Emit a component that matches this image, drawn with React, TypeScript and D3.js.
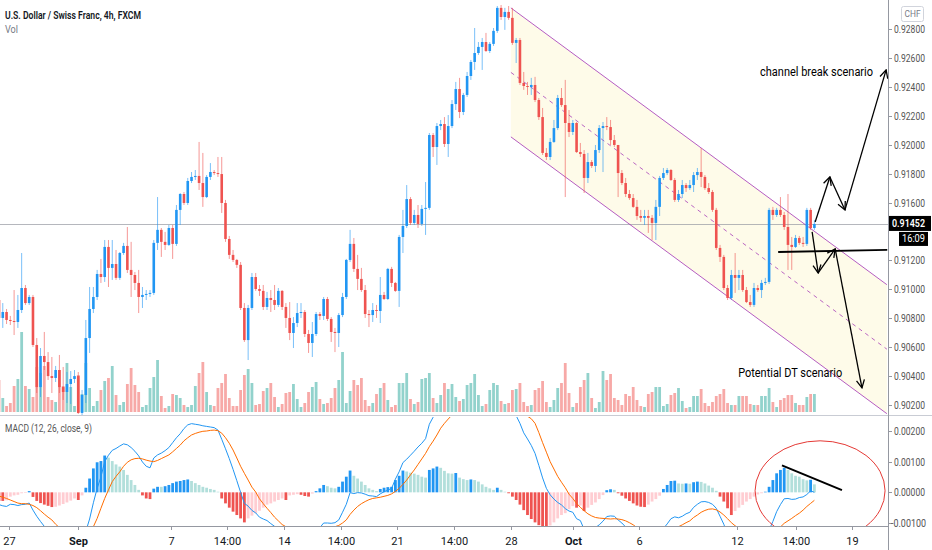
import * as d3 from "d3";
import { useEffect, useRef } from "react";

// USD/CHF 4h candles, Aug 26 – Oct 15 (first open, then close/high/low per bar)
const firstOpen = 0.90926;
const closes = [
  0.90802, 0.90843, 0.90788, 0.90781, 0.90774, 0.90857, 0.91009, 0.90905, 0.90947, 0.90615,
  0.90324, 0.90539, 0.90497, 0.904, 0.90387, 0.90442, 0.90324, 0.9029, 0.90345, 0.9038,
  0.904, 0.90145, 0.90269, 0.90663, 0.90864, 0.90947, 0.91106, 0.91085, 0.91293, 0.91148,
  0.91175, 0.91079, 0.91251, 0.913, 0.91134, 0.91099, 0.91044, 0.90947, 0.90961, 0.90968,
  0.90975, 0.91321, 0.91411, 0.91328, 0.91307, 0.91424, 0.91314, 0.91549, 0.91659, 0.91597,
  0.91749, 0.91777, 0.91784, 0.91735, 0.91638, 0.91777, 0.91811, 0.91804, 0.91797, 0.91597,
  0.91348, 0.91238, 0.91203, 0.91169, 0.90871, 0.90649, 0.90871, 0.91085, 0.91002, 0.90989,
  0.90878, 0.9094, 0.90926, 0.90892, 0.90989, 0.90878, 0.90802, 0.90698, 0.90767, 0.90836,
  0.90843, 0.90691, 0.90629, 0.90691, 0.90829, 0.90816, 0.90933, 0.90795, 0.90705, 0.90698,
  0.90822, 0.90947, 0.91203, 0.91314, 0.91141, 0.91072, 0.90995, 0.90829, 0.90822, 0.90857,
  0.9085, 0.90961, 0.90933, 0.91141, 0.91044, 0.90989, 0.91362, 0.91438, 0.91624, 0.91459,
  0.91514, 0.91452, 0.91556, 0.91563, 0.92067, 0.91984, 0.92129, 0.92143, 0.92005, 0.92129,
  0.92281, 0.92385, 0.92226, 0.92344, 0.92475, 0.92572, 0.92634, 0.92676, 0.9271, 0.92648,
  0.92697, 0.92787, 0.92946, 0.92883, 0.92918, 0.92877, 0.92704, 0.92724, 0.92427, 0.92406,
  0.92399, 0.92413, 0.92309, 0.92191, 0.91943, 0.91915, 0.92019, 0.92115, 0.92323, 0.92274,
  0.9215, 0.92088, 0.9215, 0.91949, 0.91936, 0.9177, 0.9188, 0.91853, 0.91963, 0.92115,
  0.92129, 0.92122, 0.92032, 0.91998, 0.91804, 0.91735, 0.91659, 0.91631, 0.9157, 0.91507,
  0.91494, 0.91507, 0.91494, 0.91459, 0.9157, 0.9177, 0.91804, 0.91825, 0.91756, 0.91618,
  0.91659, 0.91721, 0.917, 0.91721, 0.9179, 0.91811, 0.91777, 0.917, 0.91673, 0.91549,
  0.91286, 0.91224, 0.91009, 0.9094, 0.91099, 0.91079, 0.91099, 0.90995, 0.90912, 0.90892,
  0.91009, 0.90995, 0.91044, 0.91051, 0.91549, 0.91514, 0.91549, 0.91514, 0.91431, 0.91307,
  0.91293, 0.91355, 0.91321, 0.91314, 0.91549, 0.91424, 0.91452,
];
const highs = [
  0.91113, 0.90905, 0.90864, 0.90816, 0.90995, 0.90961, 0.91251, 0.9103, 0.90961, 0.90961,
  0.90663, 0.90594, 0.90705, 0.90566, 0.90532, 0.9047, 0.90546, 0.90463, 0.90428, 0.90435,
  0.90442, 0.90428, 0.90304, 0.90788, 0.91016, 0.91016, 0.91134, 0.9121, 0.91341, 0.91341,
  0.91341, 0.91272, 0.91258, 0.91321, 0.91431, 0.91328, 0.9112, 0.91134, 0.91016, 0.90995,
  0.90995, 0.91341, 0.91638, 0.91424, 0.91397, 0.91445, 0.91445, 0.91583, 0.91666, 0.91673,
  0.9177, 0.91811, 0.91825, 0.92019, 0.91943, 0.9179, 0.91873, 0.91825, 0.91915, 0.91915,
  0.91618, 0.91369, 0.91272, 0.9121, 0.91189, 0.90905, 0.90892, 0.91113, 0.91113, 0.9103,
  0.9103, 0.90982, 0.90995, 0.9103, 0.91009, 0.90995, 0.90905, 0.90912, 0.90808, 0.90905,
  0.90905, 0.90857, 0.90719, 0.90774, 0.90843, 0.90843, 0.90947, 0.90947, 0.90808, 0.90733,
  0.90836, 0.90975, 0.9121, 0.91411, 0.91355, 0.91238, 0.91148, 0.9103, 0.90857, 0.90905,
  0.90892, 0.91085, 0.90982, 0.91148, 0.91155, 0.91051, 0.91376, 0.91549, 0.91721, 0.91638,
  0.91549, 0.91583, 0.91583, 0.91742, 0.92081, 0.92081, 0.9215, 0.92171, 0.92191, 0.92205,
  0.92309, 0.92434, 0.92462, 0.92358, 0.92503, 0.92586, 0.92807, 0.9271, 0.92738, 0.92773,
  0.9271, 0.92807, 0.92959, 0.92966, 0.92946, 0.92959, 0.92946, 0.92738, 0.92738, 0.92503,
  0.92434, 0.92462, 0.92469, 0.92323, 0.92254, 0.91977, 0.92046, 0.92171, 0.92344, 0.92392,
  0.92448, 0.9224, 0.92171, 0.92157, 0.92012, 0.91963, 0.91943, 0.91894, 0.91998, 0.92136,
  0.92157, 0.92191, 0.92171, 0.92067, 0.91998, 0.91825, 0.9177, 0.91687, 0.91659, 0.91618,
  0.91549, 0.91549, 0.91549, 0.91514, 0.91618, 0.91784, 0.91839, 0.91839, 0.91832, 0.9177,
  0.91687, 0.91756, 0.91735, 0.91756, 0.91811, 0.91839, 0.91977, 0.9179, 0.91735, 0.91687,
  0.91563, 0.91307, 0.91238, 0.9103, 0.91134, 0.91251, 0.91134, 0.91134, 0.91016, 0.90961,
  0.91044, 0.9103, 0.91065, 0.91079, 0.91563, 0.9157, 0.91563, 0.91638, 0.91535, 0.91659,
  0.91362, 0.91376, 0.91369, 0.91362, 0.91563, 0.91563, 0.9148,
];
const lows = [
  0.90746, 0.90733, 0.9076, 0.90753, 0.90684, 0.90733, 0.90836, 0.90892, 0.90892, 0.90601,
  0.90283, 0.90255, 0.90442, 0.90373, 0.90283, 0.90359, 0.90283, 0.90235, 0.90214, 0.90207,
  0.90352, 0.90138, 0.90124, 0.90214, 0.9056, 0.90836, 0.90926, 0.91044, 0.91051, 0.91016,
  0.91065, 0.91065, 0.91065, 0.91238, 0.91113, 0.90947, 0.90995, 0.90836, 0.90871, 0.90926,
  0.90947, 0.90961, 0.91272, 0.91224, 0.91272, 0.913, 0.9121, 0.913, 0.91445, 0.91583,
  0.91583, 0.91735, 0.91756, 0.91687, 0.9157, 0.91631, 0.91756, 0.9179, 0.91777, 0.91528,
  0.91328, 0.9121, 0.91189, 0.91148, 0.90857, 0.90636, 0.90511, 0.90857, 0.90989, 0.90954,
  0.90857, 0.90857, 0.90843, 0.90857, 0.90878, 0.90857, 0.90733, 0.90649, 0.90594, 0.90739,
  0.90802, 0.9067, 0.9056, 0.90532, 0.90677, 0.90788, 0.90788, 0.90781, 0.90636, 0.90566,
  0.90601, 0.90808, 0.90933, 0.91189, 0.9112, 0.90995, 0.90982, 0.90802, 0.90739, 0.90774,
  0.90802, 0.90767, 0.90926, 0.90926, 0.91016, 0.90982, 0.90878, 0.91251, 0.91424, 0.91445,
  0.91445, 0.91424, 0.91438, 0.91376, 0.91549, 0.91915, 0.9186, 0.92101, 0.91984, 0.91915,
  0.92115, 0.9224, 0.92184, 0.92205, 0.9233, 0.92448, 0.92517, 0.92621, 0.92517, 0.92641,
  0.92634, 0.92683, 0.92773, 0.92863, 0.92794, 0.92863, 0.9269, 0.92565, 0.92413, 0.92379,
  0.92344, 0.92344, 0.92295, 0.92171, 0.91929, 0.91894, 0.91894, 0.92012, 0.92101, 0.92261,
  0.91638, 0.92053, 0.92067, 0.91943, 0.91915, 0.91666, 0.91735, 0.91839, 0.91811, 0.91943,
  0.91811, 0.92101, 0.91998, 0.91984, 0.91638, 0.91721, 0.91638, 0.91618, 0.91563, 0.9148,
  0.91466, 0.91445, 0.9139, 0.91341, 0.91341, 0.91507, 0.91756, 0.9179, 0.91749, 0.91604,
  0.91604, 0.91631, 0.91673, 0.91687, 0.91673, 0.91756, 0.91707, 0.91687, 0.91659, 0.91535,
  0.91272, 0.91189, 0.90995, 0.90926, 0.90926, 0.90975, 0.90995, 0.90982, 0.90905, 0.90878,
  0.90878, 0.90982, 0.9094, 0.9103, 0.91037, 0.9148, 0.915, 0.915, 0.91411, 0.91134,
  0.91134, 0.91286, 0.91307, 0.91293, 0.913, 0.91411, 0.91411,
];
const volumes = [
  3200, 1400, 600, 900, 2600, 3300, 8000, 2600, 2300, 1500,
  4500, 3900, 4600, 1500, 1200, 1000, 4200, 2600, 4900, 2500,
  600, 3700, 1800, 4900, 2400, 600, 1100, 2200, 3100, 3400,
  4600, 1700, 700, 1000, 2800, 4400, 2700, 2000, 500, 700,
  2400, 3500, 5200, 1600, 400, 600, 1800, 1700, 1400, 700,
  500, 700, 2600, 3900, 5000, 2000, 700, 600, 2400, 2900,
  3800, 1400, 600, 600, 2200, 3700, 4300, 2900, 700, 800,
  2100, 2400, 2900, 1500, 500, 800, 1900, 2000, 2800, 1300,
  500, 900, 2000, 2500, 3000, 1300, 800, 900, 1400, 2400,
  3200, 6000, 900, 2100, 3200, 2700, 3400, 1200, 600, 900,
  1800, 2400, 2900, 1200, 500, 700, 2900, 2900, 3900, 1300,
  800, 1000, 3300, 3400, 3900, 1400, 900, 1700, 2900, 2300,
  2800, 1500, 1100, 1300, 2700, 2900, 3800, 1700, 600, 800,
  2200, 2900, 2700, 1100, 800, 900, 2200, 2300, 2900, 1000,
  600, 700, 2200, 2400, 3100, 1000, 500, 1200, 2400, 2900,
  4900, 1900, 500, 900, 2500, 3200, 3900, 1400, 400, 1000,
  4100, 3200, 3800, 1400, 1200, 700, 1800, 1600, 2500, 1200,
  600, 500, 1800, 2000, 2500, 2500, 600, 800, 1700, 1900,
  2400, 1100, 400, 500, 1600, 1600, 2300, 900, 600, 1000,
  1600, 1800, 2300, 900, 700, 700, 1600, 1600, 1600, 800,
  700, 700, 1600, 1600, 2400, 1000, 500, 1200, 1400, 1700,
  1700, 900, 700, 700, 1500, 1800, 1800,
];
// MACD (12, 26, close, 9): histogram and signal as read; MACD line = signal + histogram
const macdHist = [
  -0.00028, -0.00028, -0.00026, -0.00014, -0.0001, -0.00008, -0.00003, -0.00002, 0.00004, -0.00015,
  -0.00028, -0.00035, -0.0004, -0.00044, -0.00048, -0.00047, -0.00043, -0.00038, -0.00033, -0.00027,
  -0.0002, -0.00025, -0.0001, 0.00015, 0.00045, 0.00078, 0.00098, 0.00102, 0.0012, 0.00113,
  0.00102, 0.00091, 0.00084, 0.00073, 0.00057, 0.0004, 0.00024, 0.00008, -0.0001, -0.0002,
  -0.00022, 0.00012, 0.00018, 0.00018, 0.0002, 0.00024, 0.0003, 0.00035, 0.00037, 0.0004,
  0.00042, 0.00037, 0.0003, 0.00024, 0.00018, 0.00015, 0.00011, 0.00008, 0.00002, -0.0002,
  -0.00036, -0.0005, -0.00063, -0.00074, -0.00085, -0.00098, -0.00085, -0.00076, -0.00068, -0.0006,
  -0.0005, -0.0004, -0.00036, -0.0003, -0.00025, -0.0002, -0.00025, -0.0001, -0.00008, -0.00006,
  -0.00008, -0.00012, -0.00014, -0.00004, 0.00004, 0.00013, 0.00024, 0.0002, 0.00015, 0.00013,
  0.00018, 0.00035, 0.00051, 0.00071, 0.00054, 0.00045, 0.00035, 0.00024, 0.00013, 0.00008,
  0.00004, 0.00011, 0.00015, 0.00017, 0.00018, 0.0004, 0.00054, 0.00071, 0.00068, 0.00064,
  0.00061, 0.00057, 0.00051, 0.00048, 0.00073, 0.00078, 0.00084, 0.0008, 0.0007, 0.00062,
  0.00061, 0.00063, 0.00048, 0.00043, 0.0004, 0.00042, 0.0004, 0.00035, 0.00026, 0.00018,
  0.00013, 0.00008, 0.00015, 0.00008, 0.00002, -0.00003, -0.00014, -0.00025, -0.0004, -0.00058,
  -0.00074, -0.00087, -0.00098, -0.00107, -0.00115, -0.00118, -0.00108, -0.00098, -0.00085, -0.00074,
  -0.00068, -0.00055, -0.00045, -0.0005, -0.00043, -0.00061, -0.0005, -0.00041, -0.00033, -0.00022,
  -0.00009, 0.00007, 0.0001, 0.00008, -0.00003, -0.00011, -0.0002, -0.00028, -0.00036, -0.00043,
  -0.00047, -0.00048, -0.0004, -0.0003, -0.00022, -0.00011, 0.00011, 0.00024, 0.00037, 0.00038,
  0.00029, 0.00028, 0.00029, 0.00028, 0.00033, 0.00035, 0.00034, 0.00029, 0.00022, 0.00015,
  0.00005, -0.00014, -0.0003, -0.00052, -0.00074, -0.00061, -0.0005, -0.00041, -0.0003, -0.00022,
  -0.00014, -0.00007, -0.00003, 0.00002, 0.00018, 0.0004, 0.00062, 0.00073, 0.0008, 0.00073,
  0.00062, 0.00054, 0.00051, 0.00043, 0.00039, 0.00041, 0.00026,
];
const macdSignal = [
  -0.00012, -0.00016, -0.0002, -0.00025, -0.0003, -0.00035, -0.00037, -0.00037, -0.00039, -0.00043,
  -0.0005, -0.0006, -0.00071, -0.00081, -0.0009, -0.00104, -0.00115, -0.00125, -0.00133, -0.00138,
  -0.00142, -0.00145, -0.00145, -0.00142, -0.00132, -0.00112, -0.00085, -0.00052, -0.0002, 0.00008,
  0.00035, 0.00052, 0.00067, 0.00085, 0.00098, 0.00106, 0.0011, 0.00111, 0.00109, 0.00105,
  0.00102, 0.001, 0.00104, 0.0011, 0.00116, 0.00122, 0.00132, 0.00143, 0.00154, 0.00168,
  0.00178, 0.00187, 0.00192, 0.00196, 0.00199, 0.002, 0.00202, 0.00203, 0.00201, 0.00193,
  0.00178, 0.0016, 0.00138, 0.00112, 0.00085, 0.00062, 0.0004, 0.00017, 0.00001, -0.00021,
  -0.00037, -0.00052, -0.00066, -0.00081, -0.00093, -0.00105, -0.00112, -0.00118, -0.00122, -0.00126,
  -0.00128, -0.0013, -0.00131, -0.00131, -0.0013, -0.00128, -0.00124, -0.0012, -0.00116, -0.00112,
  -0.00108, -0.001, -0.0009, -0.00072, -0.00058, -0.00046, -0.00037, -0.0003, -0.00024, -0.0002,
  -0.00018, -0.00016, -0.00013, -0.0001, -0.00005, 0.00003, 0.00013, 0.00026, 0.0004, 0.00057,
  0.00073, 0.00091, 0.00109, 0.00127, 0.00149, 0.00167, 0.00187, 0.00209, 0.00225, 0.00239,
  0.00252, 0.00264, 0.00274, 0.00283, 0.0029, 0.00296, 0.00301, 0.00305, 0.00307, 0.00308,
  0.00308, 0.00307, 0.00305, 0.00302, 0.00298, 0.00292, 0.00285, 0.00275, 0.00265, 0.00252,
  0.00248, 0.0024, 0.00225, 0.00195, 0.00162, 0.00131, 0.001, 0.00076, 0.00052, 0.00033,
  0.00015, -0.00006, -0.0002, -0.00036, -0.00049, -0.0006, -0.0007, -0.00077, -0.00082, -0.00084,
  -0.00085, -0.00086, -0.00087, -0.00086, -0.00087, -0.00089, -0.00093, -0.00099, -0.00106, -0.00115,
  -0.0012, -0.00125, -0.00128, -0.0013, -0.0013, -0.0013, -0.00129, -0.00127, -0.00123, -0.00118,
  -0.00112, -0.00106, -0.00099, -0.00093, -0.00082, -0.00074, -0.00065, -0.00059, -0.00055, -0.00054,
  -0.00057, -0.00064, -0.00074, -0.00086, -0.00099, -0.00109, -0.00117, -0.00125, -0.00132, -0.00137,
  -0.00141, -0.00143, -0.00144, -0.00144, -0.00141, -0.00135, -0.00125, -0.00113, -0.00101, -0.00093,
  -0.00085, -0.00076, -0.00068, -0.00058, -0.00046, -0.00036, -0.00026,
];

// axis ticks (0.91400 sits under the last-price labels)
const priceTicks = [0.928, 0.926, 0.924, 0.922, 0.92, 0.918, 0.916, 0.912, 0.91, 0.908, 0.906, 0.904, 0.902];
const macdTicks = [0.002, 0.001, 0, -0.001];
const timeTickIdx = [2.7, 21, 45.5, 60.5, 75.5, 90.5, 105.5, 120.5, 135.5, 152, 169.5, 195.5, 211, 226];
const timeTickText = ["27", "Sep", "7", "14:00", "14", "14:00", "21", "14:00", "28", "Oct", "6", "12", "14:00", "19"];

// drawings (bar index, price)
const channelIdx = [135.6, 235.2];
const channelUpper = [0.92946, 0.91032];
const channelLower = [0.92054, 0.9014];
const breakIdx = [216.2, 220.1, 224.1, 235];
const breakPrice = [0.91465, 0.91777, 0.91549, 0.92517];
const dtIdx = [215.4, 217, 221.5, 228.6];
const dtPrice = [0.91397, 0.91113, 0.91279, 0.90318];
const necklineIdx = [206.4, 235.3];
const necklinePrice = [0.91258, 0.91272];
const macdTrendIdx = [207.4, 223.3];
const macdTrendVal = [0.00088, 0.00007];

const FONT = "'Liberation Sans Narrow', 'Arial Narrow', Roboto, sans-serif";

const App = () => {
  const svgRef = useRef<SVGSVGElement>(null);
  useEffect(() => {
    if (!svgRef.current) return;
    const svg = d3.select(svgRef.current);
    svg.selectAll("*").remove();

    const axisX = 888;
    const mainBottom = 415;
    const macdTop = 417;
    const macdBottom = 526;

    const x = d3.scaleLinear().domain([0, 216]).range([-1, -1 + 216 * 3.775]);
    const y = d3.scaleLinear().domain([0.902, 0.928]).range([405, 29]);
    const yVol = d3.scaleLinear().domain([0, 10000]).range([412, 312]);
    const yMacd = d3.scaleLinear().domain([-0.001, 0.002]).range([523, 431]);

    const data = closes.map((c, i) => ({
      i,
      o: i === 0 ? firstOpen : closes[i - 1],
      c,
      h: highs[i],
      l: lows[i],
      v: volumes[i],
    }));

    const defs = svg.append("defs");
    defs.append("clipPath").attr("id", "clipMain")
      .append("rect").attr("x", 0).attr("y", 0).attr("width", axisX).attr("height", mainBottom);
    defs.append("clipPath").attr("id", "clipMacd")
      .append("rect").attr("x", 0).attr("y", macdTop).attr("width", axisX).attr("height", macdBottom - macdTop);
    defs.append("marker")
      .attr("id", "arrowHead")
      .attr("viewBox", "0 0 10 10")
      .attr("refX", 9).attr("refY", 5)
      .attr("markerWidth", 10).attr("markerHeight", 10)
      .attr("markerUnits", "userSpaceOnUse")
      .attr("orient", "auto")
      .append("path")
      .attr("d", "M1,1 L9,5 L1,9")
      .attr("fill", "none").attr("stroke", "#000").attr("stroke-width", 1.3);

    svg.append("rect").attr("width", 932).attr("height", 550).attr("fill", "#fff");

    // ---------- main pane ----------
    const main = svg.append("g").attr("clip-path", "url(#clipMain)");

    // channel fill
    const chPts = [
      [x(channelIdx[0]), y(channelUpper[0])],
      [x(channelIdx[1]), y(channelUpper[1])],
      [x(channelIdx[1]), y(channelLower[1])],
      [x(channelIdx[0]), y(channelLower[0])],
    ];
    main.append("polygon")
      .attr("points", chPts.map((p) => p.join(",")).join(" "))
      .attr("fill", "rgba(250, 230, 120, 0.16)");

    // volume
    main.append("g")
      .selectAll("rect")
      .data(data)
      .join("rect")
      .attr("x", (d) => x(d.i) - 1.4)
      .attr("y", (d) => yVol(d.v))
      .attr("width", 2.8)
      .attr("height", (d) => yVol(0) - yVol(d.v))
      .attr("fill", (d) => (d.c >= d.o ? "#26a69a" : "#ef5350"))
      .attr("fill-opacity", 0.5);

    // last price line
    const lastY = y(closes[closes.length - 1]);
    main.append("line")
      .attr("x1", 0).attr("x2", axisX)
      .attr("y1", Math.round(lastY) + 0.5)
      .attr("y2", Math.round(lastY) + 0.5)
      .attr("stroke", "#9598a1").attr("stroke-opacity", 0.7);

    // channel lines
    const purple = "#9c27b0";
    main.append("line")
      .attr("x1", chPts[0][0]).attr("y1", chPts[0][1]).attr("x2", chPts[1][0]).attr("y2", chPts[1][1])
      .attr("stroke", purple).attr("stroke-opacity", 0.75);
    main.append("line")
      .attr("x1", chPts[3][0]).attr("y1", chPts[3][1]).attr("x2", chPts[2][0]).attr("y2", chPts[2][1])
      .attr("stroke", purple).attr("stroke-opacity", 0.75);
    main.append("line")
      .attr("x1", x(channelIdx[0])).attr("y1", y((channelUpper[0] + channelLower[0]) / 2))
      .attr("x2", x(channelIdx[1])).attr("y2", y((channelUpper[1] + channelLower[1]) / 2))
      .attr("stroke", purple).attr("stroke-opacity", 0.7).attr("stroke-dasharray", "4 4");

    // candles
    const candles = main.append("g");
    candles.selectAll("rect.wick")
      .data(data)
      .join("rect")
      .attr("class", "wick")
      .attr("x", (d) => x(d.i) - 0.5)
      .attr("y", (d) => y(d.h))
      .attr("width", 1)
      .attr("height", (d) => Math.max(1, y(d.l) - y(d.h)))
      .attr("fill", (d) => (d.c >= d.o ? "#2196f3" : "#ef5350"))
      .attr("fill-opacity", 0.6);
    candles.selectAll("rect.body")
      .data(data)
      .join("rect")
      .attr("class", "body")
      .attr("x", (d) => x(d.i) - 1.3)
      .attr("y", (d) => y(Math.max(d.o, d.c)))
      .attr("width", 2.6)
      .attr("height", (d) => Math.max(1, Math.abs(y(d.o) - y(d.c))))
      .attr("fill", (d) => (d.c >= d.o ? "#2196f3" : "#ef5350"));

    // scenario arrows
    const drawArrows = (idx: number[], pr: number[]) => {
      for (let k = 0; k < idx.length - 1; k++) {
        main.append("line")
          .attr("x1", x(idx[k])).attr("y1", y(pr[k]))
          .attr("x2", x(idx[k + 1])).attr("y2", y(pr[k + 1]))
          .attr("stroke", "#000").attr("stroke-width", 1.3)
          .attr("marker-end", "url(#arrowHead)");
      }
    };
    drawArrows(breakIdx, breakPrice);
    drawArrows(dtIdx, dtPrice);
    main.append("line")
      .attr("x1", x(necklineIdx[0])).attr("y1", y(necklinePrice[0]))
      .attr("x2", x(necklineIdx[1])).attr("y2", y(necklinePrice[1]))
      .attr("stroke", "#000").attr("stroke-width", 1.8);

    main.append("text")
      .attr("x", x(201.6)).attr("y", y(0.92503) + 4)
      .attr("font-family", FONT).attr("font-size", 12.5).attr("fill", "#000")
      .attr("textLength", 113).attr("lengthAdjust", "spacingAndGlyphs")
      .text("channel break scenario");
    main.append("text")
      .attr("x", x(195.8)).attr("y", y(0.90421) + 4)
      .attr("font-family", FONT).attr("font-size", 12.5).attr("fill", "#000")
      .attr("textLength", 104).attr("lengthAdjust", "spacingAndGlyphs")
      .text("Potential DT scenario");

    // legend
    svg.append("text")
      .attr("x", 5).attr("y", 19)
      .attr("font-family", FONT).attr("font-size", 11.5).attr("font-weight", 600).attr("fill", "#131722")
      .attr("textLength", 136).attr("lengthAdjust", "spacingAndGlyphs")
      .text("U.S. Dollar / Swiss Franc, 4h, FXCM");
    svg.append("text")
      .attr("x", 5).attr("y", 33)
      .attr("font-family", FONT).attr("font-size", 11).attr("fill", "#787b86")
      .attr("textLength", 13).attr("lengthAdjust", "spacingAndGlyphs")
      .text("Vol");

    // ---------- MACD pane ----------
    svg.append("line")
      .attr("x1", 0).attr("x2", 932).attr("y1", 415.5).attr("y2", 415.5)
      .attr("stroke", "#c9ccd4");

    const mp = svg.append("g").attr("clip-path", "url(#clipMacd)");
    mp.append("g")
      .selectAll("rect")
      .data(macdHist)
      .join("rect")
      .attr("x", (_d, i) => x(i) - 1.4)
      .attr("y", (d) => yMacd(Math.max(0, d)))
      .attr("width", 2.8)
      .attr("height", (d) => Math.abs(yMacd(d) - yMacd(0)))
      .attr("fill", (d, i) => {
        const prev = i === 0 ? d : macdHist[i - 1];
        if (d >= 0) return d > prev ? "#2196f3" : "#b2dfdb";
        return i === 0 || d <= prev ? "#ef5350" : "#ffcdd2";
      });

    const macdLine = macdSignal.map((s, i) => s + macdHist[i]);
    const line = d3.line<number>().x((_d, i) => x(i)).y((d) => yMacd(d));
    mp.append("path").attr("d", line(macdLine)).attr("fill", "none").attr("stroke", "#2196f3").attr("stroke-width", 1);
    mp.append("path").attr("d", line(macdSignal)).attr("fill", "none").attr("stroke", "#ff6d00").attr("stroke-width", 1);

    mp.append("line")
      .attr("x1", x(macdTrendIdx[0])).attr("y1", yMacd(macdTrendVal[0]))
      .attr("x2", x(macdTrendIdx[1])).attr("y2", yMacd(macdTrendVal[1]))
      .attr("stroke", "#000").attr("stroke-width", 2);
    mp.append("ellipse")
      .attr("cx", x(217.5)).attr("cy", yMacd(0.00005))
      .attr("rx", 65).attr("ry", 50)
      .attr("fill", "none").attr("stroke", "#e53935").attr("stroke-width", 1);

    svg.append("text")
      .attr("x", 5).attr("y", 432)
      .attr("font-family", FONT).attr("font-size", 11).attr("fill", "#555")
      .attr("textLength", 87).attr("lengthAdjust", "spacingAndGlyphs")
      .text("MACD (12, 26, close, 9)");

    // ---------- axes ----------
    svg.append("line")
      .attr("x1", 0).attr("x2", axisX).attr("y1", macdBottom + 0.5).attr("y2", macdBottom + 0.5)
      .attr("stroke", "#9598a1");
    svg.append("line")
      .attr("x1", axisX + 0.5).attr("x2", axisX + 0.5).attr("y1", 0).attr("y2", 550)
      .attr("stroke", "#9598a1");

    const fmt = d3.format(".5f");
    const priceAxis = svg.append("g");
    priceTicks.forEach((p) => {
      const yy = Math.round(y(p)) + 0.5;
      priceAxis.append("line").attr("x1", axisX).attr("x2", axisX + 4).attr("y1", yy).attr("y2", yy).attr("stroke", "#9598a1");
      priceAxis.append("text")
        .attr("x", axisX + 6).attr("y", yy).attr("dy", "0.35em")
        .attr("font-family", FONT).attr("font-size", 10).attr("fill", "#555")
        .attr("textLength", 31).attr("lengthAdjust", "spacingAndGlyphs")
        .text(fmt(p));
    });
    macdTicks.forEach((v) => {
      const yy = Math.round(yMacd(v)) + 0.5;
      priceAxis.append("line").attr("x1", axisX).attr("x2", axisX + 4).attr("y1", yy).attr("y2", yy).attr("stroke", "#9598a1");
      priceAxis.append("text")
        .attr("x", axisX + (v < 0 ? 3 : 6)).attr("y", yy).attr("dy", "0.35em")
        .attr("font-family", FONT).attr("font-size", 10).attr("fill", "#555")
        .attr("textLength", v < 0 ? 35 : 31).attr("lengthAdjust", "spacingAndGlyphs")
        .text(fmt(v).replace("−", "-"));
    });

    // currency box
    svg.append("rect").attr("x", 901.5).attr("y", 6.5).attr("width", 22).attr("height", 15).attr("rx", 2)
      .attr("fill", "#fff").attr("stroke", "#d1d4dc");
    svg.append("text").attr("x", 912.5).attr("y", 14).attr("dy", "0.35em").attr("text-anchor", "middle")
      .attr("font-family", FONT).attr("font-size", 9).attr("fill", "#787b86")
      .attr("textLength", 16).attr("lengthAdjust", "spacingAndGlyphs").text("CHF");

    // last price + countdown labels
    svg.append("rect").attr("x", 889).attr("y", lastY - 8).attr("width", 42).attr("height", 15).attr("fill", "#000");
    svg.append("text").attr("x", 892).attr("y", lastY).attr("dy", "0.35em")
      .attr("font-family", FONT).attr("font-size", 10).attr("font-weight", 600).attr("fill", "#fff")
      .attr("textLength", 33).attr("lengthAdjust", "spacingAndGlyphs")
      .text(fmt(closes[closes.length - 1]));
    svg.append("rect").attr("x", 899).attr("y", lastY + 8).attr("width", 29).attr("height", 14).attr("fill", "#000");
    svg.append("text").attr("x", 902).attr("y", lastY + 15).attr("dy", "0.35em")
      .attr("font-family", FONT).attr("font-size", 10).attr("fill", "#fff")
      .attr("textLength", 23).attr("lengthAdjust", "spacingAndGlyphs").text("16:09");

    // time axis
    const timeAxis = svg.append("g");
    timeTickIdx.forEach((t, k) => {
      const xx = Math.round(x(t)) + 0.5;
      timeAxis.append("line").attr("x1", xx).attr("x2", xx).attr("y1", macdBottom).attr("y2", macdBottom + 4).attr("stroke", "#9598a1");
      const isMonth = timeTickText[k] === "Sep" || timeTickText[k] === "Oct";
      timeAxis.append("text")
        .attr("x", xx).attr("y", 541).attr("dy", "0.35em").attr("text-anchor", "middle")
        .attr("font-family", FONT).attr("font-size", 11)
        .attr("font-weight", isMonth ? 700 : 400)
        .attr("fill", "#131722")
        .text(timeTickText[k]);
    });
  }, []);

  return (
    <svg
      ref={svgRef}
      width={932}
      height={550}
      style={{ position: "absolute", left: 0, top: 0, display: "block" }}
    />
  );
};

export default App;
